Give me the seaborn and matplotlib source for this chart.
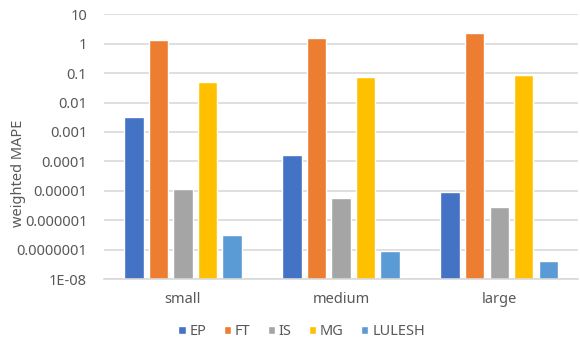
import matplotlib
matplotlib.use("Agg")
import matplotlib.pyplot as plt
import seaborn as sns
import pandas as pd
from matplotlib.ticker import FixedLocator, FixedFormatter

sizes = ["small", "medium", "large"]
benchmarks = ["EP", "FT", "IS", "MG", "LULESH"]
ep = [3.3e-3, 1.7e-4, 9.1e-6]
ft = [1.28, 1.49, 2.2]
is_ = [1.12e-5, 5.6e-6, 2.9e-6]
mg = [0.048, 0.071, 0.083]
lulesh = [3.1e-7, 9.1e-8, 4.1e-8]
colors = ["#4472C4", "#ED7D31", "#A5A5A5", "#FFC000", "#5B9BD5"]

tick_values = [1e1, 1e0, 1e-1, 1e-2, 1e-3, 1e-4, 1e-5, 1e-6, 1e-7, 1e-8]
tick_labels = ["10", "1", "0.1", "0.01", "0.001", "0.0001", "0.00001",
               "0.000001", "0.0000001", "1E-08"]

series = dict(zip(benchmarks, [ep, ft, is_, mg, lulesh]))
rows = [(s, b, series[b][i]) for b in benchmarks for i, s in enumerate(sizes)]
df = pd.DataFrame(rows, columns=["size", "benchmark", "mape"])

sns.set_theme(style="white")
plt.rcParams["font.family"] = ["Noto Sans", "DejaVu Sans"]

fig, ax = plt.subplots(figsize=(5.8, 3.44), dpi=100)
fig.subplots_adjust(left=0.179, right=0.997, top=0.959, bottom=0.188)

ax.set_yscale("log")
sns.barplot(data=df, x="size", y="mape", hue="benchmark", order=sizes,
            hue_order=benchmarks, palette=colors, saturation=1,
            width=0.775, gap=0.21, ax=ax, legend=True)
ax.set_ylim(1e-8, 10)
ax.set_xlim(-0.5, 2.5)

ax.yaxis.set_major_locator(FixedLocator(tick_values))
ax.yaxis.set_major_formatter(FixedFormatter(tick_labels))
ax.yaxis.set_minor_locator(FixedLocator([]))
ax.grid(axis="y", color="#D9D9D9", linewidth=1.2)
ax.set_axisbelow(True)
for side in ["top", "right", "left"]:
    ax.spines[side].set_visible(False)
ax.spines["bottom"].set_color("#D9D9D9")
ax.spines["bottom"].set_linewidth(1.2)
ax.tick_params(axis="both", length=0, labelsize=10.5, labelcolor="#595959")
ax.tick_params(axis="y", pad=12)
ax.tick_params(axis="x", pad=9)
ax.set_xlabel("")
ax.set_ylabel("weighted MAPE", fontsize=10.5, color="#595959")
ax.yaxis.set_label_coords(-0.165, 0.40)

ax.get_legend().remove()
handles, labels = ax.get_legend_handles_labels()
fig.legend(handles, labels, loc="lower center", bbox_to_anchor=(0.52, -0.025),
           ncol=5, frameon=False, fontsize=10.5, handlelength=0.5,
           handleheight=0.5, handletextpad=0.25, columnspacing=1.2,
           labelcolor="#595959")

fig.savefig("out.png", dpi=100)
